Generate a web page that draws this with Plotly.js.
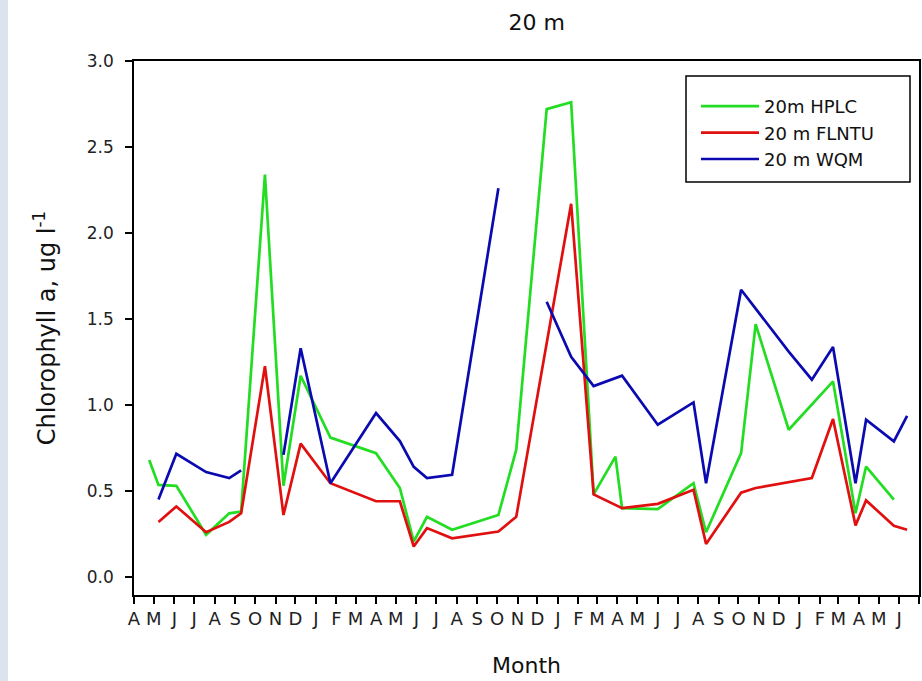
<!DOCTYPE html>
<html>
<head>
<meta charset="utf-8">
<script src="https://cdn.plot.ly/plotly-3.0.1.min.js"></script>
<style>
  html, body { margin: 0; padding: 0; background: #ffffff; }
  #chart { width: 922px; height: 681px; }
</style>
</head>
<body>
<div id="chart"></div>
<script>
// Sampling dates (shared by all three series)
const sampleDates = [
  '2007-04-24', '2007-05-08', '2007-06-04', '2007-07-19', '2007-08-23', '2007-09-10',
  '2007-10-16', '2007-11-13', '2007-12-09', '2008-01-23', '2008-04-01', '2008-05-07',
  '2008-05-28', '2008-06-17', '2008-07-25', '2008-10-03', '2008-10-30', '2008-12-15',
  '2009-01-21', '2009-02-24', '2009-03-29', '2009-04-08', '2009-06-01', '2009-07-25',
  '2009-08-13', '2009-10-05', '2009-10-27', '2009-12-16', '2010-01-20', '2010-02-21',
  '2010-03-27', '2010-04-12', '2010-05-24', '2010-06-13'
];

// Chlorophyll a (ug/l)
const hplc20m = [
  0.68, 0.535, 0.53, 0.245, 0.37, 0.38,
  2.34, 0.53, 1.17, 0.81, 0.72, 0.517,
  0.206, 0.35, 0.274, 0.36, 0.74, 2.72,
  2.76, 0.48, 0.70, 0.40, 0.394, 0.545,
  0.26, 0.72, 1.47, 0.856, null, 1.137,
  0.37, 0.642, 0.45, null
];
const flntu20m = [
  null, 0.32, 0.41, 0.26, 0.32, 0.37,
  1.225, 0.36, 0.775, 0.545, 0.44, 0.44,
  0.177, 0.284, 0.225, 0.264, 0.35, null,
  2.17, 0.48, null, 0.40, 0.425, 0.507,
  0.192, 0.49, 0.517, null, 0.575, 0.918,
  0.30, 0.445, 0.297, 0.274
];
const wqm20m = [
  null, 0.45, 0.716, 0.61, 0.575, 0.62,
  null, 0.71, 1.33, 0.545, 0.953, 0.79,
  0.64, 0.575, 0.594, 2.26, null, 1.60,
  1.28, 1.11, 1.155, 1.17, 0.885, 1.015,
  0.545, 1.67, 1.56, 1.31, 1.147, 1.337,
  0.545, 0.914, 0.788, 0.937
];

// Axis ticks
const monthTickLetters = [
  'A','M','J','J','A','S','O','N','D','J','F','M',
  'A','M','J','J','A','S','O','N','D','J','F','M',
  'A','M','J','J','A','S','O','N','D','J','F','M',
  'A','M','J'
];
const firstTickMonth = '2007-04-01';
const yTickValues = [0, 0.5, 1.0, 1.5, 2.0, 2.5, 3.0];
const yTickLabels = ['0.0', '0.5', '1.0', '1.5', '2.0', '2.5', '3.0'];

const monthTickVals = monthTickLetters.map(function (_, i) {
  const y0 = parseInt(firstTickMonth.slice(0, 4), 10);
  const m0 = parseInt(firstTickMonth.slice(5, 7), 10) - 1;
  const total = m0 + i;
  const y = y0 + Math.floor(total / 12);
  const m = (total % 12) + 1;
  return y + '-' + (m < 10 ? '0' + m : m) + '-01';
});

const FONT = 'DejaVu Sans, Verdana, sans-serif';

const traces = [
  {
    name: '20m HPLC', x: sampleDates, y: hplc20m, type: 'scatter', mode: 'lines',
    line: { color: '#22dd22', width: 2.7 }, connectgaps: true
  },
  {
    name: '20 m FLNTU', x: sampleDates, y: flntu20m, type: 'scatter', mode: 'lines',
    line: { color: '#e01010', width: 2.7 }, connectgaps: true
  },
  {
    name: '20 m WQM', x: sampleDates, y: wqm20m, type: 'scatter', mode: 'lines',
    line: { color: '#0a0ab0', width: 2.7 }, connectgaps: false
  }
];

const layout = {
  width: 922, height: 681,
  margin: { l: 134, r: 3, t: 61, b: 86, pad: 0 },
  paper_bgcolor: '#ffffff', plot_bgcolor: '#ffffff',
  font: { family: FONT, color: '#222222' },
  title: {
    text: '20 m', font: { family: FONT, size: 22, color: '#111111' },
    x: 0.513, xref: 'paper', xanchor: 'center',
    y: 1 - 22 / 681, yref: 'container', yanchor: 'middle'
  },
  xaxis: {
    type: 'date',
    range: ['2007-04-01', '2010-07-01'],
    tickmode: 'array', tickvals: monthTickVals, ticktext: monthTickLetters,
    ticks: 'outside', ticklen: 7, tickwidth: 1.5, tickcolor: '#000000',
    minor: { ticks: 'outside', dtick: 'M1', tick0: '2007-04-01', ticklen: 7, tickwidth: 1.5, tickcolor: '#000000', showgrid: false },
    showline: true, linecolor: '#000000', linewidth: 1.5, mirror: true,
    showgrid: false, zeroline: false,
    tickfont: { family: FONT, size: 18, color: '#222222' },
    title: { text: 'Month', font: { family: FONT, size: 22, color: '#111111' }, standoff: 29 }
  },
  yaxis: {
    range: [-0.105, 3.0],
    tickmode: 'array', tickvals: yTickValues, ticktext: yTickLabels,
    ticks: 'outside', ticklen: 7, tickwidth: 1.5, tickcolor: '#000000',
    ticklabelstandoff: 8,
    showline: true, linecolor: '#000000', linewidth: 1.5, mirror: true,
    showgrid: false, zeroline: false,
    tickfont: { family: FONT, size: 17, color: '#222222' },
    title: { text: 'Chlorophyll a, ug l<sup>-1</sup>', font: { family: FONT, size: 24, color: '#111111' }, standoff: 24 }
  },
  showlegend: true,
  legend: {
    x: (696 - 134) / 785, y: (595 - 88) / 534, xanchor: 'left', yanchor: 'top',
    bgcolor: 'rgba(0,0,0,0)', borderwidth: 0,
    font: { family: FONT, size: 18, color: '#111111' },
    tracegroupgap: 0, itemwidth: 58
  },
  shapes: [
    {
      type: 'rect', xref: 'paper', yref: 'paper',
      x0: -134 / 785, x1: -126 / 785, y0: -86 / 534, y1: 595 / 534,
      fillcolor: '#dbe3ee', line: { width: 0 }, layer: 'below'
    },
    {
      type: 'rect', xref: 'paper', yref: 'paper',
      x0: (686 - 134) / 785, x1: (910 - 134) / 785,
      y0: (595 - 182) / 534, y1: (595 - 76) / 534,
      fillcolor: '#ffffff', line: { color: '#000000', width: 1.5 }, layer: 'above'
    }
  ]
};

Plotly.newPlot('chart', traces, layout, { displayModeBar: false, responsive: false });
</script>
</body>
</html>
